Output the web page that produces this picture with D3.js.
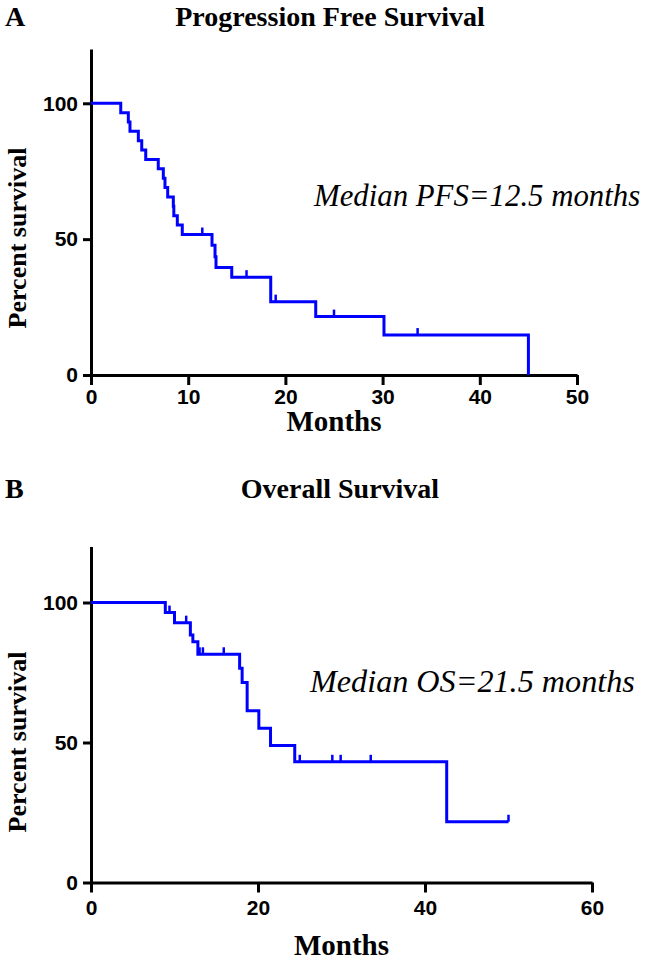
<!DOCTYPE html>
<html>
<head>
<meta charset="utf-8">
<script src="https://cdn.jsdelivr.net/npm/d3@7"></script>
<style>
  body { margin: 0; background: #fff; }
  svg { display: block; }
  .tick text { font-family: "Liberation Sans", Arial, sans-serif; font-weight: bold; font-size: 21px; fill: #000; }
  .serif { font-family: "Liberation Serif", "Times New Roman", serif; fill: #000; }
</style>
</head>
<body>
<div id="chart"></div>
<script>
// Panel A: progression free survival (months, percent after each event)
let pfsMonths   = [0, 3.06, 3.84, 4.01, 4.87, 5.22, 5.63, 6.92, 7.44, 7.61, 7.89, 8.47, 8.52, 8.88, 9.39, 12.45, 12.76, 12.86, 14.48, 18.49, 23.12, 30.14, 45.0];
let pfsSurvival = [100, 96.5, 93.1, 89.7, 86.2, 82.8, 79.3, 75.9, 72.4, 69.0, 65.5, 62.1, 58.6, 55.2, 51.7, 47.8, 43.5, 39.6, 36.0, 27.0, 21.5, 14.7, 0];
let pfsCensored = [11.45, 16.0, 19.0, 25.0, 33.6];

// Panel B: overall survival
let osMonths   = [0, 8.9, 10.0, 11.9, 12.2, 12.8, 17.8, 18.1, 18.7, 20.1, 21.5, 24.4, 42.6, 50.0];
let osSurvival = [100, 96.4, 92.8, 88.4, 86.0, 81.5, 76.5, 71.4, 61.3, 55.1, 48.9, 43.1, 21.7, 21.7];
let osCensored = [9.4, 11.4, 13.0, 13.4, 15.9, 25.0, 28.9, 29.9, 33.5, 50.0];

let yTicks = [0, 50, 100];
let pfsXTicks = [0, 10, 20, 30, 40, 50];
let osXTicks = [0, 20, 40, 60];

let width = 648, height = 961;
let svg = d3.select('#chart').append('svg').attr('width', width).attr('height', height);

function drawPanel(p) {
    let x = d3.scaleLinear().domain([0, p.xMax]).range([91, p.xRight]);
    let y = d3.scaleLinear().domain([0, 120]).range([p.yBottom, p.yBottom - 1.2 * p.yHundred]);
    let g = svg.append('g');

    // letter and title
    g.append('text').attr('class', 'serif').attr('x', 5).attr('y', p.titleY)
        .attr('font-size', 28).attr('font-weight', 'bold').text(p.letter);
    g.append('text').attr('class', 'serif').attr('x', p.titleX).attr('y', p.titleY)
        .attr('text-anchor', 'middle').attr('font-size', 28).attr('font-weight', 'bold').text(p.title);

    // axes
    let yAxis = g.append('g').attr('transform', `translate(${x(0)},0)`)
        .call(d3.axisLeft(y).tickValues(yTicks).tickSize(8).tickSizeOuter(0).tickPadding(5));
    let xAxis = g.append('g').attr('transform', `translate(0,${y(0)})`)
        .call(d3.axisBottom(x).tickValues(p.xTicks).tickSize(10).tickSizeOuter(0).tickPadding(p.xPad));
    [yAxis, xAxis].forEach(a => {
        a.select('.domain').attr('stroke', '#000').attr('stroke-width', 3);
        a.selectAll('.tick line').attr('stroke', '#000').attr('stroke-width', 3);
    });

    // survival curve
    let pts = p.months.map((m, i) => [m, p.surv[i]]);
    let line = d3.line().x(d => x(d[0])).y(d => y(d[1])).curve(d3.curveStepAfter);
    g.append('path').attr('d', line(pts)).attr('fill', 'none')
        .attr('stroke', '#0000ff').attr('stroke-width', 3);

    // censor marks
    g.selectAll('.censor').data(p.censored).join('line')
        .attr('class', 'censor')
        .attr('x1', d => x(d)).attr('x2', d => x(d))
        .attr('y1', d => y(p.surv[d3.bisectRight(p.months, d) - 1]))
        .attr('y2', d => y(p.surv[d3.bisectRight(p.months, d) - 1]) - 7)
        .attr('stroke', '#0000ff').attr('stroke-width', 2.5);

    // labels
    g.append('text').attr('class', 'serif')
        .attr('transform', `translate(26,${p.ylabelY}) rotate(-90)`)
        .attr('text-anchor', 'middle').attr('font-size', 26).attr('font-weight', 'bold')
        .text('Percent survival');
    g.append('text').attr('class', 'serif').attr('x', x(p.xMax / 2)).attr('y', p.xlabelY)
        .attr('text-anchor', 'middle').attr('font-size', 29).attr('font-weight', 'bold').text('Months');
    g.append('text').attr('class', 'serif').attr('x', p.medianX).attr('y', p.medianY)
        .attr('font-size', p.medianSize).attr('font-style', 'italic').text(p.median);
}

drawPanel({
    letter: 'A', title: 'Progression Free Survival', titleX: 330, titleY: 26,
    xMax: 50, xRight: 577, xTicks: pfsXTicks, xPad: 4, yBottom: 375, yHundred: 271.7,
    months: pfsMonths, surv: pfsSurvival, censored: pfsCensored,
    ylabelY: 238, xlabelY: 431, median: 'Median PFS=12.5 months', medianX: 314, medianY: 206, medianSize: 30.8
});

drawPanel({
    letter: 'B', title: 'Overall Survival', titleX: 340, titleY: 498,
    xMax: 60, xRight: 592, xTicks: osXTicks, xPad: 8, yBottom: 882.5, yHundred: 280,
    months: osMonths, surv: osSurvival, censored: osCensored,
    ylabelY: 742, xlabelY: 955, median: 'Median OS=21.5 months', medianX: 310, medianY: 692, medianSize: 32.2
});
</script>
</body>
</html>
